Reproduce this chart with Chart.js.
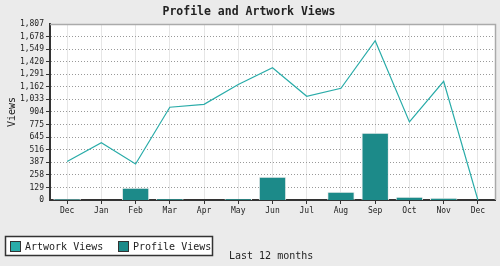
<!DOCTYPE html>
<html>
<head>
<meta charset="utf-8">
<script src="https://cdn.jsdelivr.net/npm/chart.js@4/dist/chart.umd.min.js"></script>
<style>
html,body{margin:0;padding:0;background:#ebebeb;}
#wrap{width:500px;height:266px;position:relative;}
</style>
</head>
<body>
<div id="wrap"><canvas id="c" width="500" height="266"></canvas></div>
<script>
const categories = ["Dec","Jan","Feb","Mar","Apr","May","Jun","Jul","Aug","Sep","Oct","Nov","Dec"];
const artworkViews = [395, 588, 370, 952, 982, 1185, 1358, 1065, 1147, 1636, 801, 1219, 0];
const profileViews = [12, 0, 126, 13, 0, 13, 239, 0, 85, 691, 34, 24, 0];
const yTicks = [0,129,258,387,516,645,775,904,1033,1162,1291,1420,1549,1678,1807];
const titleText = "Profile and Artwork Views";
const yTitle = "Views";
const xTitle = "Last 12 months";

const FONT = "'DejaVu Sans Mono', 'Liberation Mono', monospace";
const lineColor = "#2aaca9";
const barColor = "#1c8a89";

const decor = {
  id: 'decor',
  beforeDraw(chart) {
    const {ctx, chartArea: a} = chart;
    ctx.save();
    ctx.fillStyle = '#ebebeb';
    ctx.fillRect(0, 0, chart.width, chart.height);
    ctx.fillStyle = '#ffffff';
    ctx.fillRect(a.left, a.top, a.right - a.left, a.bottom - a.top);
    ctx.restore();
  },
  afterDraw(chart) {
    const {ctx, chartArea: a} = chart;
    ctx.save();
    ctx.strokeStyle = '#aaaaaa';
    ctx.lineWidth = 1.5;
    ctx.beginPath();
    ctx.moveTo(a.left, a.top + 0.5);
    ctx.lineTo(a.right + 0.5, a.top + 0.5);
    ctx.lineTo(a.right + 0.5, a.bottom);
    ctx.stroke();
    ctx.fillStyle = '#222';
    ctx.font = "bold 11.5px " + FONT;
    ctx.textAlign = 'center';
    ctx.textBaseline = 'middle';
    ctx.fillText(titleText, 249, 12);
    ctx.save();
    ctx.translate(12, (a.top + a.bottom) / 2);
    ctx.rotate(-Math.PI / 2);
    ctx.font = "10px " + FONT;
    ctx.fillText(yTitle, 0, 0);
    ctx.restore();
    ctx.fillStyle = '#ffffff';
    ctx.fillRect(5, 236, 208, 20);
    ctx.strokeStyle = '#333';
    ctx.lineWidth = 1.5;
    ctx.strokeRect(5.5, 236.5, 207, 19);
    const items = chart.data.datasets.map(d => ({label: d.label, color: d.legendColor}));
    const xs = [10, 118];
    ctx.font = "10px " + FONT;
    ctx.textAlign = 'left';
    ctx.textBaseline = 'alphabetic';
    items.forEach((it, i) => {
      ctx.fillStyle = it.color;
      ctx.fillRect(xs[i], 241, 10, 10);
      ctx.strokeStyle = '#333';
      ctx.lineWidth = 1;
      ctx.strokeRect(xs[i] + 0.5, 241.5, 10, 10);
      ctx.fillStyle = '#222';
      ctx.fillText(it.label, xs[i] + 15, 250);
    });
    ctx.fillText(xTitle, 229, 259);
    ctx.restore();
  }
};

new Chart(document.getElementById('c'), {
  type: 'bar',
  data: {
    labels: categories,
    datasets: [
      {
        type: 'line',
        label: 'Artwork Views',
        data: artworkViews,
        borderColor: lineColor,
        backgroundColor: lineColor,
        legendColor: lineColor,
        borderWidth: 1.2,
        pointRadius: 0,
        tension: 0,
        order: 0
      },
      {
        type: 'bar',
        label: 'Profile Views',
        data: profileViews,
        backgroundColor: barColor,
        legendColor: barColor,
        borderColor: '#eeeeee',
        borderWidth: 1,
        categoryPercentage: 1,
        barPercentage: 0.8,
        order: 1
      }
    ]
  },
  options: {
    responsive: false,
    animation: false,
    devicePixelRatio: 1,
    layout: {padding: {top: 24, left: 0, right: 5, bottom: 0}},
    plugins: {legend: {display: false}, title: {display: false}, tooltip: {enabled: false}},
    scales: {
      x: {
        offset: true,
        grid: {offset: false, color: '#e6e6e6', lineWidth: 1, tickColor: '#333', tickLength: 4, drawTicks: true},
        border: {color: '#333', width: 2},
        ticks: {font: {family: FONT, size: 8}, color: '#222', padding: 2, maxRotation: 0, autoSkip: false},
        afterFit(s) { s.height = 66; }
      },
      y: {
        min: 0,
        max: 1807,
        afterBuildTicks(s) { s.ticks = yTicks.map(v => ({value: v})); },
        grid: {color: '#999999', tickColor: '#333', tickBorderDash: [], tickLength: 4,
               lineWidth: (c) => (c.tick && (c.tick.value === 0 || c.tick.value === 1807)) ? 0 : 1},
        border: {color: '#333', width: 2, dash: [1, 2]},
        ticks: {font: {family: FONT, size: 8}, color: '#222', padding: 2, autoSkip: false,
                callback: (v) => Number(v).toLocaleString('en-US')},
        afterFit(s) { s.width = 50; }
      }
    }
  },
  plugins: [decor]
});
</script>
</body>
</html>
